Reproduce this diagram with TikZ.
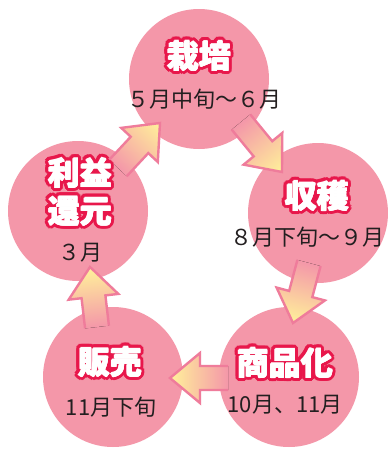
\documentclass[tikz,border=0pt]{standalone}
\usepackage{fontspec}
\setmainfont{Noto Sans CJK JP}
\usetikzlibrary{calc}
\definecolor{circpink}{HTML}{F497A9}
\definecolor{arrborder}{HTML}{EF7C9B}
\definecolor{arryellow}{HTML}{FFF29A}
\definecolor{titlered}{HTML}{E8174B}
\definecolor{subtext}{HTML}{231F20}
\makeatletter
\newcommand\ringtext[3]{%
  \foreach \a in {0,#2,...,359}{\pgfmathsetmacro\dx{#1*cos(\a)}\pgfmathsetmacro\dy{#1*sin(\a)}\rlap{\hspace*{\dx pt}\raisebox{\dy pt}{#3}}}}
\newcommand\ttl[1]{{\color{titlered}\ringtext{3.6}{22.5}{#1}\ringtext{1.8}{45}{#1}}{\color{white}\ringtext{0.6}{90}{#1}#1}}
\newcommand\blockarrow[2]{%
  \pgfmathanglebetweenpoints{\pgfpointanchor{#1}{center}}{\pgfpointanchor{#2}{center}}%
  \xdef\baang{\pgfmathresult}%
  \pgfpointdiff{\pgfpointanchor{#1}{center}}{\pgfpointanchor{#2}{center}}%
  \pgfmathveclen{\pgf@x}{\pgf@y}\xdef\balen{\pgfmathresult}%
  \pgfmathsetmacro\tmphead{\balen-30}\xdef\bahead{\tmphead}%
  \begin{scope}[transform canvas={shift={(#1)},rotate=\baang}]
    \fill[left color=circpink,right color=arryellow]
      (0pt,-12pt) -- (\bahead pt,-12pt) -- (\bahead pt,-25pt) -- (\balen pt,0pt)
      -- (\bahead pt,25pt) -- (\bahead pt,12pt) -- (0pt,12pt) -- cycle;
    \draw[arrowline]
      (0pt,-12pt) -- (\bahead pt,-12pt) -- (\bahead pt,-25pt) -- (\balen pt,0pt)
      -- (\bahead pt,25pt) -- (\bahead pt,12pt) -- (0pt,12pt);
  \end{scope}}
\makeatother
\begin{document}
\begin{tikzpicture}[x=1pt,y=-1pt,
  stage/.style={circle,fill=circpink,minimum size=140pt,inner sep=0pt},
  arrowline/.style={arrborder,line width=2.4pt,line join=miter},
  titletext/.style={inner sep=0pt,align=center,font=\fontsize{32}{35}\selectfont\bfseries},
  subtitle/.style={inner sep=0pt,text=subtext,font=\fontsize{22}{24}\selectfont}]
\fill[white] (0,0) rectangle (388,450);
\useasboundingbox (0,0) rectangle (388,450);
% circles
\node[stage] (saibai) at (199,79) {};
\node[stage] (shukaku) at (318,213) {};
\node[stage] (shohin) at (289,377) {};
\node[stage] (hanbai) at (113,377) {};
\node[stage] (rieki) at (78,211) {};
% arrow end points
\coordinate (a1t) at (241,122); \coordinate (a1h) at (282,172);
\coordinate (a2t) at (309,263); \coordinate (a2h) at (293,323);
\coordinate (a3t) at (228,378); \coordinate (a3h) at (170,378);
\coordinate (a4t) at (97,327);  \coordinate (a4h) at (90,267);
\coordinate (a5t) at (118,168); \coordinate (a5h) at (160,123);
\blockarrow{a1t}{a1h}
\blockarrow{a2t}{a2h}
\blockarrow{a3t}{a3h}
\blockarrow{a4t}{a4h}
\blockarrow{a5t}{a5h}
% texts
\node[titletext] (saibaiT) at (199,56) {\ttl{栽培}};
\node[subtitle] (saibaiS) at (204,99) {５月中旬～６月};
\node[titletext] (shukakuT) at (317,196) {\ttl{収穫}};
\node[subtitle] (shukakuS) at (307,237) {８月下旬～９月};
\node[titletext] (shohinT) at (285,363) {\ttl{商品化}};
\node[subtitle] (shohinS) at (285,405) {10月、11月};
\node[titletext] (hanbaiT) at (110,362) {\ttl{販売}};
\node[subtitle] (hanbaiS) at (111,407) {11月下旬};
\node[titletext] (riekiT) at (80,192) {\ttl{利益}\\\ttl{還元}};
\node[subtitle] (riekiS) at (80,253) {３月};
\end{tikzpicture}
\end{document}
